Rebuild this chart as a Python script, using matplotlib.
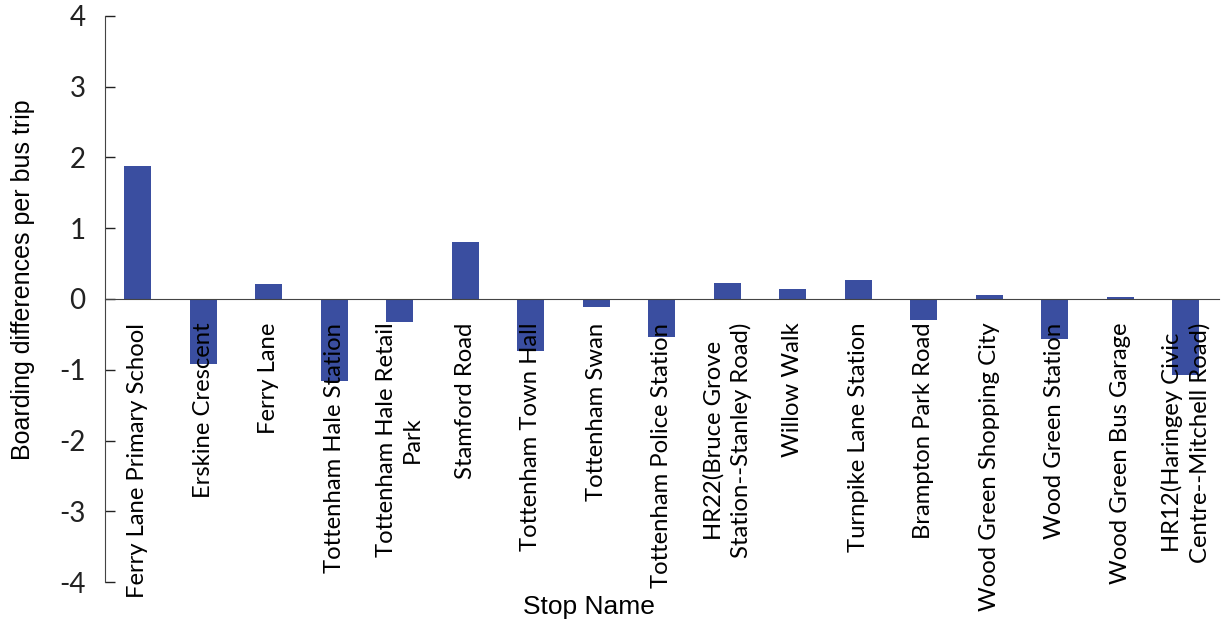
import numpy as np
import matplotlib
matplotlib.use('Agg')
import matplotlib.pyplot as plt

# stops and boarding differences
stops = ['Ferry Lane Primary School', 'Erskine Crescent', 'Ferry Lane',
         'Tottenham Hale Station', 'Tottenham Hale Retail\nPark', 'Stamford Road',
         'Tottenham Town Hall', 'Tottenham Swan', 'Tottenham Police Station',
         'HR22(Bruce Grove\nStation--Stanley Road)', 'Willow Walk',
         'Turnpike Lane Station', 'Brampton Park Road', 'Wood Green Shopping City',
         'Wood Green Station', 'Wood Green Bus Garage',
         'HR12(Haringey Civic\nCentre--Mitchell Road)']
diffs = [1.88, -0.92, 0.21, -1.16, -0.33, 0.80, -0.73, -0.11, -0.54,
         0.22, 0.14, 0.27, -0.30, 0.05, -0.56, 0.03, -1.08]
yticks = [-4, -3, -2, -1, 0, 1, 2, 3, 4]

bar_color = '#3A4EA0'
lab_font = 'Lato'

fig = plt.figure(figsize=(12.21, 6.30), dpi=100)
ax = fig.add_axes([0.086, 0.076, 0.912, 0.899])

x = np.arange(len(stops))
ax.bar(x, diffs, width=0.41, color=bar_color, zorder=1)

ax.set_xlim(-0.5, len(stops) - 0.5)
ax.set_ylim(-4, 4)
ax.set_yticks(yticks)
ax.set_yticklabels([str(t) for t in yticks], fontsize=20, family=lab_font)
ax.tick_params(axis='y', direction='in', length=7, width=1, pad=14, colors='#222222')

ax.spines['top'].set_visible(False)
ax.spines['right'].set_visible(False)
ax.spines['bottom'].set_position(('data', 0))
ax.spines['left'].set_color('#444444')
ax.spines['bottom'].set_color('#444444')

ax.set_xticks(x)
ax.set_xticklabels(stops, rotation=90, ha='center', va='top', linespacing=1.3,
                   multialignment='center', fontsize=17.2, family=lab_font)
ax.tick_params(axis='x', length=0, pad=17)

fig.text(0.019, 0.556, 'Boarding differences per bus trip', rotation=90,
         ha='center', va='center', fontsize=18, family='Liberation Sans')
fig.text(0.482, 0.036, 'Stop Name', ha='center', va='center',
         fontsize=19, family='Liberation Sans')

fig.savefig('out.png', dpi=100)
